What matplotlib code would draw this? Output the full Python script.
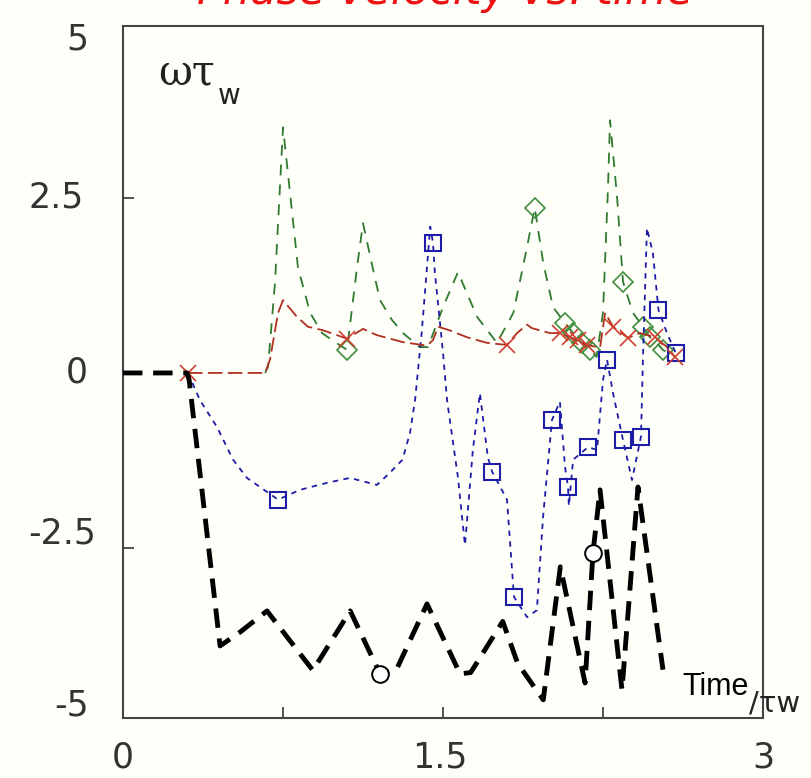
import matplotlib
matplotlib.use("Agg")
import matplotlib.pyplot as plt

# ---------------- data ----------------
black_x = [0.0, 0.30, 0.31, 0.455, 0.55, 0.675, 0.89, 1.065, 1.205, 1.28, 1.425, 1.58, 1.63,
           1.78, 1.85, 1.97, 2.05, 2.166, 2.203, 2.236, 2.339, 2.414, 2.531]
black_y = [0.0, 0.0, -0.1, -3.9, -3.7, -3.4, -4.25, -3.4, -4.3, -4.25, -3.3, -4.3, -4.28,
           -3.55, -4.15, -4.67, -2.77, -4.43, -2.57, -1.67, -4.53, -1.63, -4.24]
black_marks = [8, 18]

blue_x = [0.305, 0.361, 0.44, 0.516, 0.581, 0.727, 0.83, 0.956, 1.064, 1.19, 1.25, 1.31, 1.345,
          1.369, 1.40, 1.425, 1.44, 1.453, 1.462, 1.50, 1.519, 1.57, 1.603, 1.64, 1.673, 1.71,
          1.73, 1.80, 1.828, 1.833, 1.894, 1.94, 1.969, 2.011, 2.048, 2.072, 2.086, 2.09, 2.11,
          2.18, 2.222, 2.25, 2.269, 2.297, 2.344, 2.386, 2.428, 2.4375, 2.456, 2.484, 2.51,
          2.55, 2.59]
blue_y = [0.0, -0.39, -0.77, -1.24, -1.5, -1.81, -1.67, -1.57, -1.5, -1.6, -1.43, -1.24, -0.86,
          -0.39, 0.57, 1.51, 2.09, 1.86, 1.43, 0.29, -0.39, -1.49, -2.46, -1.1, -0.29, -1.2,
          -1.41, -1.81, -3.0, -3.2, -3.49, -3.39, -2.06, -0.67, -0.41, -1.34, -1.63, -1.9, -1.24,
          -1.06, -1.1, -0.1, 0.19, -0.29, -0.96, -1.53, -0.91, 0.23, 2.07, 1.71, 0.9,
          0.57, 0.29]
blue_marks = [5, 17, 26, 29, 33, 36, 39, 42, 44, 46, 50, 52]

red_x = [0.305, 0.666, 0.689, 0.727, 0.75, 0.816, 0.867, 0.9375, 1.05, 1.125, 1.19, 1.3125,
         1.425, 1.453, 1.477, 1.53, 1.6125, 1.706, 1.80, 1.847, 1.894, 1.917, 2.0, 2.048,
         2.095, 2.133, 2.175, 2.236, 2.26, 2.297, 2.367, 2.423, 2.494, 2.55, 2.5875]
red_y = [0.0, 0.0, 0.19, 0.86, 1.04, 0.8, 0.66, 0.61, 0.49, 0.63, 0.54, 0.44,
         0.39, 0.47, 0.66, 0.61, 0.51, 0.43, 0.4, 0.57, 0.69, 0.64, 0.57, 0.57,
         0.51, 0.47, 0.4, 0.36, 0.86, 0.66, 0.5, 0.57, 0.51, 0.37, 0.23]
red_marks = [0, 8, 18, 23, 24, 25, 26, 29, 30, 32, 34]

green_x = [0.666, 0.68, 0.7125, 0.75, 0.783, 0.82, 0.877, 0.933, 0.98, 1.05, 1.097, 1.125,
           1.18, 1.205, 1.26, 1.3125, 1.39, 1.43, 1.5, 1.57, 1.66, 1.753, 1.83, 1.894, 1.93,
           1.97, 2.016, 2.072, 2.11, 2.15, 2.19, 2.22, 2.25, 2.273, 2.283, 2.316, 2.344,
           2.39, 2.4375, 2.47, 2.503, 2.53, 2.573]
green_y = [0.0, 0.09, 1.29, 3.51, 2.57, 1.51, 0.86, 0.57, 0.47, 0.33, 1.51, 2.14,
           1.37, 1.04, 0.76, 0.57, 0.37, 0.37, 0.94, 1.44, 0.8, 0.43, 0.86, 1.8, 2.36,
           1.57, 0.94, 0.71, 0.57, 0.43, 0.33, 0.23, 0.86, 2.61, 3.61, 2.51, 1.3,
           0.86, 0.66, 0.51, 0.43, 0.33, 0.26]
green_marks = [9, 24, 27, 28, 29, 30, 36, 38, 39, 41]

ytick_values = [5, 2.5, 0, -2.5, -5]
ytick_labels = ["5", "2.5", "0", "-2.5", "-5"]
xtick_values = [0, 1.5, 3]
xtick_labels = ["0", "1.5", "3"]
title_text = "Phase velocity vs. time"

# ---------------- figure ----------------
W, H = 811, 778
BG = "#fffffa"
fig = plt.figure(figsize=(W / 100, H / 100), dpi=100, facecolor=BG)


def fx(px):
    return px / W


def fy(py):
    return 1 - py / H


ax = fig.add_axes([fx(123), fy(718), 640 / W, 692 / H], facecolor=BG)
ax.set_xlim(0, 3)
ax.set_ylim(-4.93, 4.957)

ax.plot(blue_x, blue_y, color="#1c1ca8", lw=1.3, dashes=(3, 3),
        marker="s", markevery=blue_marks, ms=12, mfc="none", mec="#1c1ca8", mew=1.5, zorder=3)
ax.plot(green_x, green_y, color="#2f7a2f", lw=1.3, dashes=(6, 5),
        marker="D", markevery=green_marks, ms=10, mfc="none", mec="#3f8f3f", mew=1.2, zorder=2)
ax.plot(red_x, red_y, color="#b03020", lw=1.3, dashes=(8, 3),
        marker="x", markevery=red_marks, ms=12, mfc="none", mec="#d04030", mew=1.2, zorder=4)
ax.plot(black_x, black_y, color="black", lw=3.5, dashes=(4, 2.2),
        marker="o", markevery=black_marks, ms=12, mfc="white", mec="black", mew=1.4, zorder=5)

for s in ax.spines.values():
    s.set_color("#444444")
    s.set_linewidth(1.5)

ax.set_xticks([0.75, 1.5, 2.25])
ax.set_yticks([-2.5, 0, 2.5])
ax.tick_params(direction="in", length=8, width=1.3, color="#444444",
               labelbottom=False, labelleft=False)

# tick labels (placed like in the reference)
ylab_pos = {"5": (77, 40), "2.5": (56, 197), "0": (77, 372), "-2.5": (62, 533), "-5": (72, 705)}
for v, lab in zip(ytick_values, ytick_labels):
    px, py = ylab_pos[lab]
    fig.text(fx(px), fy(py), lab, fontsize=25, color="#333333",
             ha="center", va="center", family="DejaVu Sans")
xlab_pos = [123, 440, 763]
for v, lab, px in zip(xtick_values, xtick_labels, xlab_pos):
    fig.text(fx(px), fy(757), lab, fontsize=25, color="#333333",
             ha="center", va="center", family="DejaVu Sans")

# axis labels inside the frame
fig.text(fx(158), fy(84), "ωτ", fontsize=30, family="DejaVu Serif",
         color="#222222", ha="left", va="baseline")
fig.text(fx(218), fy(104), "w", fontsize=20, family="DejaVu Sans",
         color="#222222", ha="left", va="baseline")
fig.text(fx(682), fy(695), "Time", fontsize=22, family="Liberation Sans",
         color="black", ha="left", va="baseline")
fig.text(fx(749), fy(712), "/τw", fontsize=21, family="DejaVu Sans",
         color="#222222", ha="left", va="baseline")

# title, cut off at the top edge as in the reference
fig.text(fx(445), fy(4), title_text, fontsize=31, color="#ee1111",
         style="italic", ha="center", va="baseline", family="DejaVu Sans")

fig.savefig("out.png", dpi=100, facecolor=BG)
